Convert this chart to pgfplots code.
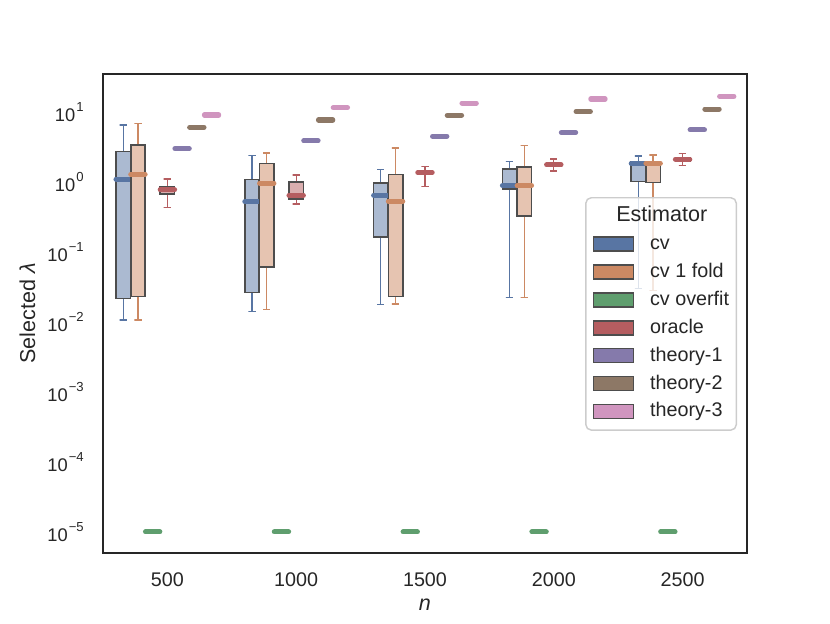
\documentclass[border=0pt]{standalone}
\usepackage{fontspec}
\setmainfont{Liberation Sans}
\usepackage{pgfplots}
\pgfplotsset{compat=1.18}
\usepackage{pgfplotstable}

\definecolor{cvd}{HTML}{5875A3}
\definecolor{cod}{HTML}{CC8963}
\definecolor{ovd}{HTML}{5F9E6E}
\definecolor{ord}{HTML}{B55D60}
\definecolor{tad}{HTML}{857AAB}
\definecolor{tbd}{HTML}{8D7866}
\definecolor{tcd}{HTML}{D095BF}
\definecolor{framec}{HTML}{262626}
\definecolor{boxedge}{HTML}{4D4D4D}

% flat series: group index g, value y
\pgfplotstableread{
g y
0 1e-5
1 1e-5
2 1e-5
3 1e-5
4 1e-5
}\overfit
\pgfplotstableread{
g y
0 2.99
1 3.85
2 4.49
3 5.06
4 5.53
}\theoryA
\pgfplotstableread{
g y
0 6.03
1 7.67
2 8.96
3 10.1
4 11.0
}\theoryB
\pgfplotstableread{
g y
0 9.04
1 11.5
2 13.4
3 15.3
4 16.7
}\theoryC

\pgfplotsset{
  flat/.style={forget plot, only marks, mark=-, mark size=4pt,
    mark options={draw=#1, line width=2.8pt, line cap=round}},
}

% box: colour, position, lower whisker, lower quartile, median, upper quartile, upper whisker
\newcommand\bx[7]{%
  \pgfmathsetmacro\bxl{#2-0.056}\pgfmathsetmacro\bxr{#2+0.056}%
  \pgfmathsetmacro\bcl{#2-0.0285}\pgfmathsetmacro\bcr{#2+0.0285}%
  \addplot[forget plot, draw=#1, line width=0.75pt] coordinates {(#2,#6) (#2,#7) (\bcl,#7) (\bcr,#7)};
  \addplot[forget plot, draw=#1, line width=0.75pt] coordinates {(#2,#4) (#2,#3) (\bcl,#3) (\bcr,#3)};
  \addplot[forget plot, draw=boxedge, line width=0.9pt, fill=#1!50!white] coordinates {(\bxl,#4) (\bxr,#4) (\bxr,#6) (\bxl,#6)} -- cycle;
  \addplot[forget plot, draw=#1, line width=2.8pt, line cap=round] coordinates {(\bxl,#5) (\bxr,#5)};
}

\newcommand\patch[1]{\addlegendimage{legend image code/.code={\draw[sharp corners,fill=#1,fill opacity=1,draw=boxedge,line width=0.8pt] (0pt,-3.9pt) rectangle (22.1pt,3.9pt);}}}
\newcommand\pw[1]{10\hspace{0.6pt}\raisebox{5.6pt}{\fontsize{7.3}{8}\selectfont #1}}

\begin{document}
\begin{tikzpicture}
\begin{axis}[
  scale only axis, width=4.965in, height=3.693in,
  ymode=log, ymin=5.0e-6, ymax=34.8,
  xmin=-0.5, xmax=4.5,
  xtick={0,1,2,3,4}, xticklabels={500,1000,1500,2000,2500},
  ytick={1e-5,1e-4,1e-3,1e-2,1e-1,1,10},
  yticklabels={\pw{−5},\pw{−4},\pw{−3},\pw{−2},\pw{−1},\pw{0},\pw{1}},
  major tick length=0pt, minor tick length=0pt,
  axis line style={draw=framec, line width=1.25pt},
  tick label style={text=framec},
  xticklabel style={font=\fontsize{11}{13}\selectfont, yshift=-7.3pt},
  yticklabel style={font=\fontsize{10.2}{12}\selectfont, xshift=-7.2pt},
  xlabel={\textit{n}}, ylabel={Selected \textit{λ}},
  label style={font=\fontsize{12}{14}\selectfont, text=framec},
  xlabel style={at={(rel axis cs:0.5,0)}, anchor=north, yshift=-22.3pt},
  ylabel style={at={(rel axis cs:-0.0953,0.5)}, anchor=south},
  legend style={at={(rel axis cs:0.9845,0.7432)}, anchor=north east,
    draw=black!20, line width=0.8pt, rounded corners=3pt,
    fill=white, fill opacity=0.8, text opacity=1,
    font=\fontsize{11}{13}\selectfont, text=framec,
    inner xsep=4pt, inner ysep=4.8pt, row sep=4.55pt,
    nodes={inner sep=0pt, text height=8.5pt, text depth=2.5pt},
    /tikz/every odd column/.append style={column sep=8.9pt}},
  legend cell align=left,
]
% ---- cv
\bx{cvd}{-0.3429}{0.0107}{0.0216}{1.10}{2.71}{6.5}
\bx{cvd}{0.6571}{0.0141}{0.0263}{0.52}{1.09}{2.40}
\bx{cvd}{1.6571}{0.0177}{0.162}{0.645}{0.97}{1.50}
\bx{cvd}{2.6571}{0.0223}{0.79}{0.885}{1.52}{1.95}
\bx{cvd}{3.6571}{0.0303}{1.02}{1.84}{1.92}{2.35}
% ---- cv 1 fold
\bx{cod}{-0.2286}{0.0107}{0.0231}{1.29}{3.34}{6.9}
\bx{cod}{0.7714}{0.0149}{0.0612}{0.96}{1.83}{2.59}
\bx{cod}{1.7714}{0.018}{0.0231}{0.53}{1.27}{3.06}
\bx{cod}{2.7714}{0.0223}{0.324}{0.885}{1.62}{3.34}
\bx{cod}{3.7714}{0.028}{0.98}{1.86}{1.94}{2.43}
% ---- cv overfit
\addplot[flat=ovd] table[x expr=\thisrow{g}-0.1143, y=y] {\overfit};
% ---- oracle
\bx{ord}{0}{0.435}{0.674}{0.77}{0.84}{1.10}
\bx{ord}{1}{0.485}{0.572}{0.645}{0.99}{1.26}
\bx{ord}{2}{0.857}{1.30}{1.36}{1.42}{1.65}
\bx{ord}{3}{1.44}{1.68}{1.75}{1.82}{2.13}
\bx{ord}{4}{1.73}{2.0}{2.11}{2.2}{2.57}
% ---- theory
\addplot[flat=tad] table[x expr=\thisrow{g}+0.1143, y=y] {\theoryA};
\addplot[flat=tbd] table[x expr=\thisrow{g}+0.2286, y=y] {\theoryB};
\addplot[flat=tcd] table[x expr=\thisrow{g}+0.3429, y=y] {\theoryC};
% ---- legend
\addlegendimage{empty legend}
\addlegendentry{\hspace*{6.5pt}\makebox[0pt][c]{\fontsize{12}{14}\selectfont Estimator}}
\patch{cvd}\addlegendentry{cv}
\patch{cod}\addlegendentry{cv 1 fold}
\patch{ovd}\addlegendentry{cv overfit}
\patch{ord}\addlegendentry{oracle}
\patch{tad}\addlegendentry{theory-1}
\patch{tbd}\addlegendentry{theory-2}
\patch{tcd}\addlegendentry{theory-3}
\coordinate (BL) at (rel axis cs:0,0);
\coordinate (TR) at (rel axis cs:1,1);
\end{axis}
\pgfresetboundingbox
\path[use as bounding box] ([xshift=-0.794in,yshift=-0.5397in]BL) rectangle ([xshift=0.640in,yshift=0.5706in]TR);
\end{tikzpicture}
\end{document}
